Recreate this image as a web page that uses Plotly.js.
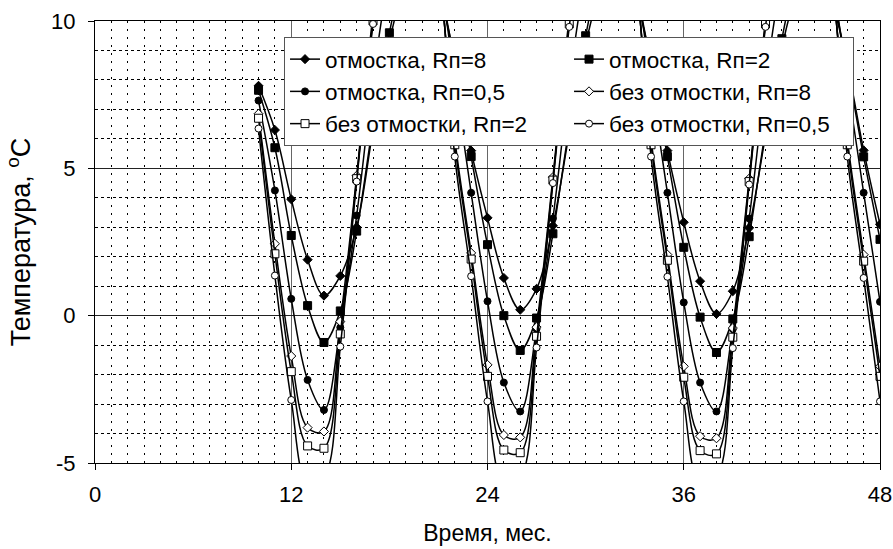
<!DOCTYPE html>
<html>
<head>
<meta charset="utf-8">
<script src="https://cdn.plot.ly/plotly-3.0.1.min.js"></script>
<style>html,body{margin:0;padding:0;background:#fff;}#chart{width:893px;height:549px;}</style>
</head>
<body>
<div id="chart"></div>
<script>
// months 10..48
const months = [10,11,12,13,14,15,16,17,18,19,20,21,22,23,24,25,26,27,28,29,30,31,32,33,34,35,36,37,38,39,40,41,42,43,44,45,46,47,48];

const otmR8 = [7.8,6.3,3.95,1.9,0.68,1.35,3.0,6.3,9.3,11.2,11.8,10.9,8.7,5.6,3.32,1.28,0.2,0.91,3.05,6.2,9.2,11.1,11.7,10.8,8.6,5.6,3.17,1.17,0.06,0.83,2.98,6.1,9.1,11.0,11.6,10.7,8.5,5.61,3.1];
const otmR2 = [7.65,5.7,2.72,0.34,-0.91,0.16,2.87,6.5,9.6,11.8,12.4,11.2,8.6,5.4,2.41,0.0,-1.18,-0.08,2.78,6.4,9.5,11.7,12.3,11.1,8.5,5.4,2.32,-0.05,-1.25,-0.11,2.68,6.3,9.4,11.6,12.2,11.0,8.4,5.39,2.59];
const otmR05 = [7.3,4.25,0.57,-2.18,-3.2,-0.4,3.4,8.0,11.5,13.2,13.3,11.6,8.0,4.17,0.49,-2.27,-3.25,-0.45,3.3,7.9,11.4,13.1,13.2,11.5,7.9,4.17,0.45,-2.27,-3.25,-0.45,3.3,7.9,11.4,13.1,13.2,11.5,7.9,4.17,0.47];
const bezR8 = [6.85,2.44,-1.37,-3.8,-3.93,-0.2,4.75,10.2,13.8,15.0,14.2,11.7,6.0,2.13,-1.67,-4.05,-4.13,-0.39,4.7,10.1,13.7,14.9,14.1,11.6,6.0,2.07,-1.72,-4.09,-4.16,-0.42,4.65,10.0,13.6,14.8,14.0,11.5,6.0,2.07,-1.72];
const bezR2 = [6.7,2.1,-1.9,-4.42,-4.5,-0.62,4.65,10.0,13.9,15.3,14.5,11.8,5.8,1.92,-2.06,-4.56,-4.65,-0.7,4.6,9.9,13.8,15.2,14.4,11.7,5.8,1.88,-2.09,-4.58,-4.69,-0.73,4.55,9.9,13.7,15.1,14.3,11.6,5.8,1.85,-2.06];
const bezR05 = [6.35,1.36,-2.86,-5.7,-5.5,-1.05,4.55,9.9,14.0,15.6,14.8,12.0,5.4,1.34,-2.91,-5.7,-5.5,-1.08,4.5,9.8,13.9,15.5,14.7,11.9,5.4,1.32,-2.91,-5.7,-5.5,-1.1,4.45,9.8,13.8,15.4,14.6,11.8,5.4,1.28,-2.91];

const names = ['отмостка, Rп=8','отмостка, Rп=2','отмостка, Rп=0,5','без отмостки, Rп=8','без отмостки, Rп=2','без отмостки, Rп=0,5'];
const xTicks = [0,12,24,36,48];
const yTicks = [-5,0,5,10];

const series = [otmR8, otmR2, otmR05, bezR8, bezR2, bezR05];
const symbols = ['diamond','square','circle','diamond','square','circle'];
const fills = ['#000','#000','#000','#fff','#fff','#fff'];
const sizes = [7,8,7,7,8,7];

const traces = series.map((ys,i)=>({
  x: months, y: ys, name: names[i], type:'scatter', mode:'lines+markers',
  line:{color:'#000', width:1.5, shape:'spline', smoothing:1},
  marker:{symbol:symbols[i], size:sizes[i], color:fills[i], line:{color:'#000', width:1}}
}));

const font = {family:'"Liberation Sans", Arial, sans-serif', color:'#000'};

const layout = {
  width:893, height:549,
  margin:{l:95, r:13, t:21, b:86},
  paper_bgcolor:'#fff', plot_bgcolor:'#fff',
  font: Object.assign({size:20}, font),
  showlegend:true,
  legend:{
    x:0.2408, y:0.9638, xanchor:'left', yanchor:'top',
    orientation:'h', entrywidth:239,
    bgcolor:'#fff', bordercolor:'#555', borderwidth:1,
    font: Object.assign({size:22.5}, font),
    traceorder:'normal'
  },
  xaxis:{
    range:[0,48], tickvals:xTicks, ticktext:xTicks.map(String),
    showline:true, mirror:true, linecolor:'#000', linewidth:1,
    ticks:'outside', ticklen:6, tickcolor:'#000', ticklabelstandoff:6,
    showgrid:true, gridcolor:'#666', gridwidth:1, zeroline:false,
    minor:{dtick:1, tick0:0, showgrid:true, gridcolor:'#000', gridwidth:1, griddash:'2px,6px'},
    tickfont: Object.assign({size:22}, font),
    title:{text:'Время, мес.', font:Object.assign({size:23}, font), standoff:18}
  },
  yaxis:{
    range:[-5,10], tickvals:yTicks, ticktext:yTicks.map(String),
    showline:true, mirror:true, linecolor:'#000', linewidth:1,
    ticks:'outside', ticklen:6, tickcolor:'#000', ticklabelstandoff:8,
    showgrid:true, gridcolor:'#222', gridwidth:1, zeroline:false,
    minor:{dtick:1, tick0:0, showgrid:true, gridcolor:'#000', gridwidth:1, griddash:'3px,3px'},
    tickfont: Object.assign({size:22}, font),
    title:{text:'Температура, <sup>o</sup>C', font:Object.assign({size:27}, font), standoff:12}
  }
};

Plotly.newPlot('chart', traces, layout, {staticPlot:true, displayModeBar:false});
</script>
</body>
</html>
